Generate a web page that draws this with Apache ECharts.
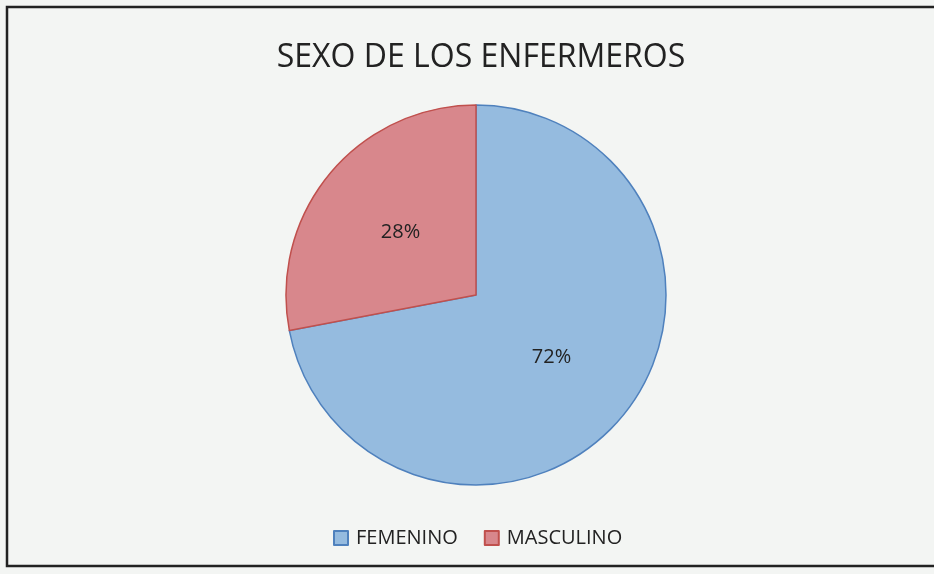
<!DOCTYPE html>
<html>
<head>
<meta charset="utf-8">
<script src="https://cdn.jsdelivr.net/npm/echarts@6/dist/echarts.min.js"></script>
<style>html,body{margin:0;padding:0;background:#f3f5f3;}#c{width:934px;height:574px;}</style>
</head>
<body>
<div id="c"></div>
<script>
const titleText = 'SEXO DE LOS ENFERMEROS';
const categories = ['FEMENINO', 'MASCULINO'];
const values = [72, 28];
const fills = ['#95bbdf', '#d8878c'];
const borders = ['#4f81bd', '#c0504d'];

const chart = echarts.init(document.getElementById('c'));
chart.setOption({
  backgroundColor: '#f3f5f3',
  animation: false,
  title: {
    text: titleText,
    left: 476, top: 37, textAlign: 'center',
    textStyle: { fontFamily: 'Open Sans', fontWeight: 'normal', fontSize: 32, color: '#222' }
  },
  legend: {
    data: categories,
    top: 523, left: 328,
    icon: 'rect', itemWidth: 14, itemHeight: 14, itemGap: 26,
    textStyle: { fontFamily: 'Open Sans', fontSize: 20, color: '#222', padding: [0, 0, 0, 3] }
  },
  graphic: [{
    type: 'rect', shape: { x: 7, y: 7, width: 940, height: 559 },
    style: { fill: 'none', stroke: '#222', lineWidth: 2.5 }, silent: true
  }],
  series: [{
    type: 'pie',
    center: [476, 295], radius: 190,
    startAngle: 90, clockwise: true,
    data: categories.map((c, i) => ({
      name: c, value: values[i],
      itemStyle: { color: fills[i], borderColor: borders[i], borderWidth: 1.5 }
    })),
    label: {
      show: true, position: 'inside', formatter: '{c}%',
      fontFamily: 'Open Sans', fontSize: 20, color: '#222'
    },
    labelLine: { show: false },
    emphasis: { disabled: true }
  }]
});
</script>
</body>
</html>
